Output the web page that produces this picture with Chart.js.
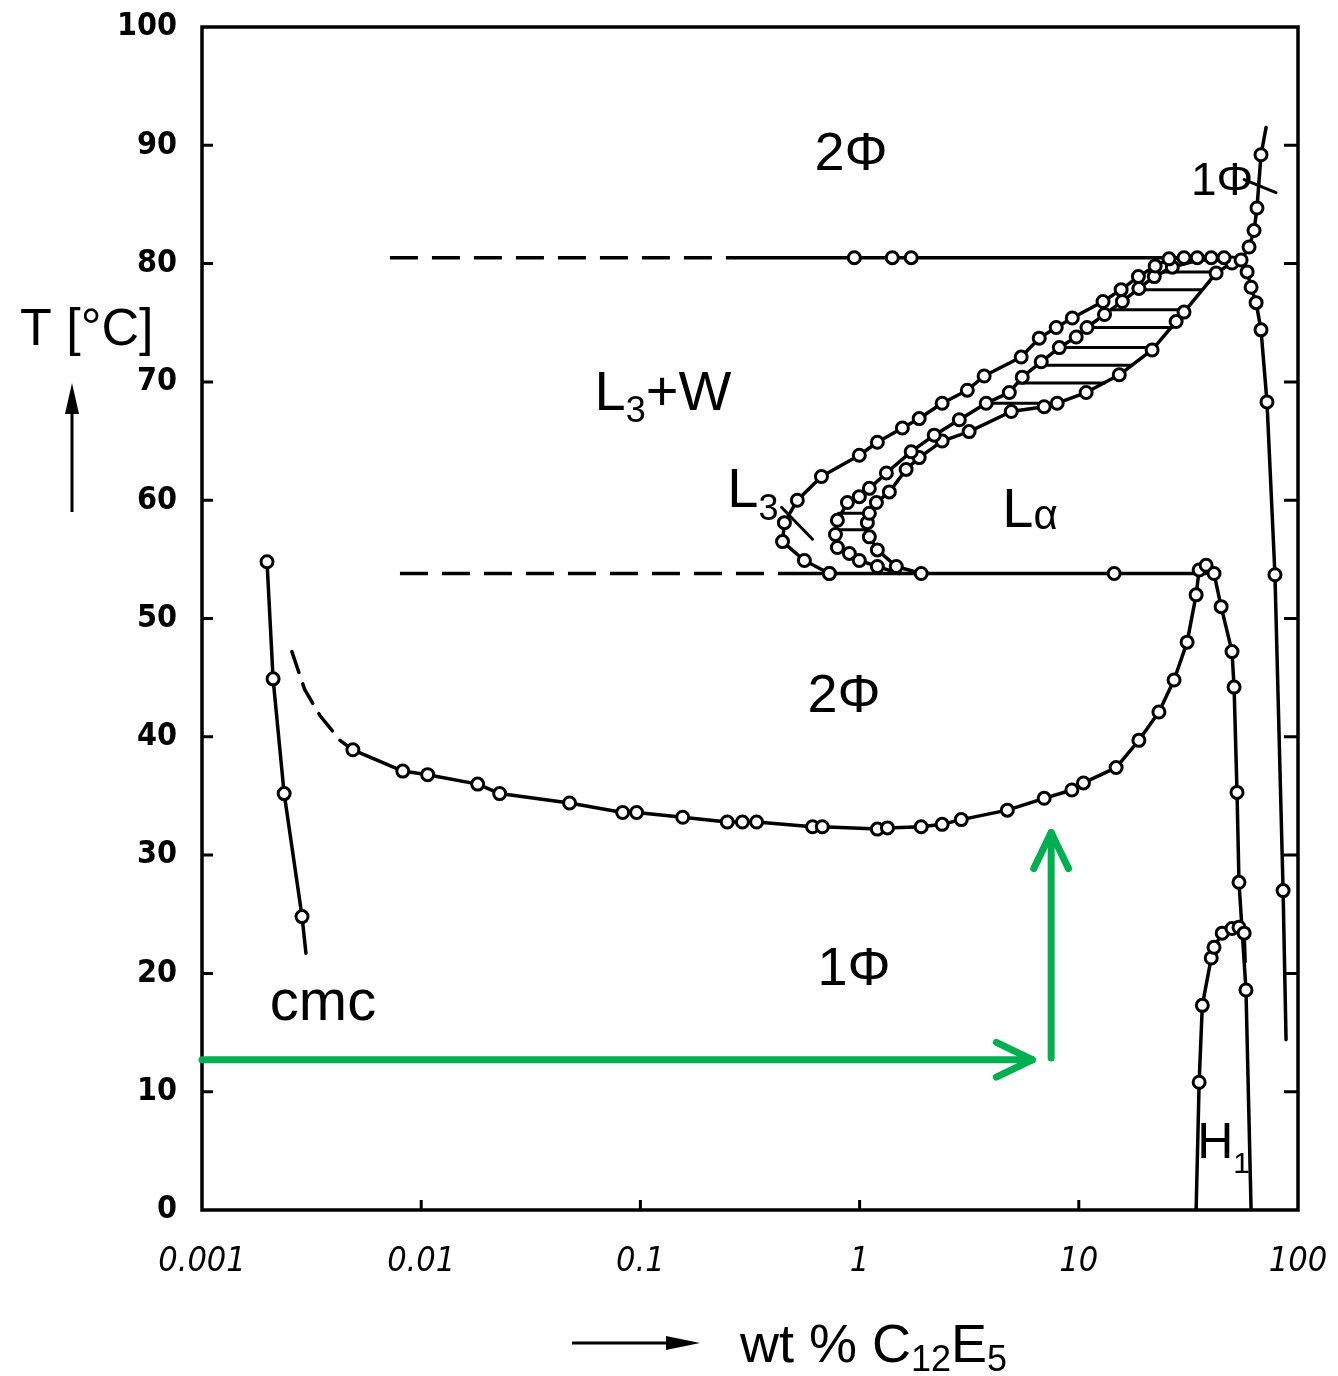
<!DOCTYPE html>
<html>
<head>
<meta charset="utf-8">
<title>C12E5 / water phase diagram</title>
<script src="https://cdn.jsdelivr.net/npm/chart.js@4.4.0/dist/chart.umd.min.js"></script>
<style>
  html, body { margin: 0; padding: 0; background: #fff; }
  canvas { display: block; }
</style>
</head>
<body>
<canvas id="chart" width="1338" height="1376"></canvas>
<script>
// axis ticks
var xTickValues = [0.001, 0.01, 0.1, 1, 10, 100];
var xTickLabels = ['0.001', '0.01', '0.1', '1', '10', '100'];
var yTickValues = [0, 10, 20, 30, 40, 50, 60, 70, 80, 90, 100];
var yTickLabels = ['0', '10', '20', '30', '40', '50', '60', '70', '80', '90', '100'];

// cmc curve  [wt%, T]
var cmcPoints = [[0.00198, 54.8], [0.00211, 44.9], [0.00237, 35.2], [0.00286, 24.8]];
var cmcEnd = [[0.00298, 21.7]];

// lower consolute (cloud point) curve
var cloudDashed = [[0.00257, 47.2], [0.00294, 44.0], [0.00345, 41.8], [0.00426, 39.7], [0.00488, 38.9]];
var cloudPoints = [[0.00488, 38.9], [0.00824, 37.1], [0.0107, 36.8], [0.0181, 36.0], [0.0228, 35.2],
  [0.0475, 34.4], [0.083, 33.6], [0.0961, 33.6], [0.156, 33.2], [0.249, 32.8], [0.292, 32.8],
  [0.339, 32.8], [0.61, 32.4], [0.676, 32.4], [1.205, 32.2], [1.34, 32.3], [1.91, 32.4],
  [2.38, 32.6], [2.91, 33.0], [4.72, 33.8], [6.95, 34.8], [9.3, 35.5], [10.5, 36.1], [14.8, 37.4],
  [18.8, 39.7], [23.2, 42.1], [27.2, 44.8], [31.2, 48.0], [34.3, 52.0], [35.4, 54.1], [38.1, 54.5],
  [41.4, 53.8], [44.6, 51.0], [50.0, 47.2], [51.1, 44.2], [52.7, 35.3], [53.8, 27.7], [57.9, 18.6]];
var cloudEnd = [[61.1, 0]];

// hexagonal phase H1
var h1Start = [[34.3, 0]];
var h1Points = [[35.4, 10.8], [36.6, 17.3], [40.2, 21.3], [41.4, 22.2], [45.1, 23.4], [50.0, 23.8],
  [53.8, 23.9], [56.8, 23.4]];
var h1End = [[57.4, 21.0]];

// boundary near pure surfactant
var rightTop = [[71.5, 91.5]];
var rightPoints = [[67.8, 89.2], [65.0, 84.7], [63.0, 82.8], [59.8, 81.4], [55.0, 80.3], [58.6, 79.3],
  [61.1, 78.0], [64.4, 76.7], [67.8, 74.4], [72.2, 68.3], [78.5, 53.7], [85.5, 27.0]];
var rightEnd = [[88.2, 14.4]];

// three-phase lines
var t80 = 80.5;
var t80Dashed = [0.0072, 0.272];
var t80Solid = [0.272, 55.0];
var t80Points = [0.946, 1.41, 1.72];
var t54 = 53.8;
var t54Dashed = [0.008, 0.50];
var t54Solid = [0.50, 38.1];
var t54Points = [0.728, 1.91, 14.5];

// L3 channel outer boundary
var l3Points = [[0.728, 53.8], [0.560, 54.9], [0.445, 56.5], [0.454, 58.1], [0.520, 60.0], [0.670, 62.0],
  [0.997, 63.8], [1.205, 64.9], [1.567, 66.1], [1.87, 66.9], [2.38, 68.2], [3.10, 69.3], [3.70, 70.5],
  [5.46, 72.1], [6.60, 73.7], [7.89, 74.6], [9.34, 75.4], [12.9, 76.8], [15.6, 77.8], [18.7, 78.9],
  [22.3, 79.8], [25.8, 80.4], [30.2, 80.5], [34.7, 80.5], [40.2, 80.5], [46.0, 80.5]];
var l3End = [[55.0, 80.3]];

// L-alpha outer boundary
var laOuterStart = [[1.52, 53.8]];
var laOuterPoints = [[1.205, 54.4], [0.997, 54.9], [0.898, 55.5], [0.792, 56.0], [0.776, 57.1],
  [0.792, 58.3], [0.880, 59.8], [0.997, 60.3], [1.108, 61.0], [1.325, 62.3], [1.72, 64.1], [2.19, 65.5],
  [2.85, 66.8], [3.78, 68.2], [4.82, 69.1], [5.52, 70.4], [6.74, 71.7], [8.15, 72.9], [9.73, 73.8],
  [10.9, 74.6], [13.1, 75.7], [15.8, 76.8], [18.8, 77.9], [22.1, 78.9], [26.7, 79.7]];
var laOuterEnd = [[35.4, 80.3], [55.0, 80.3]];

// L-alpha inner boundary
var laInnerStart = [[1.91, 53.8]];
var laInnerPoints = [[1.47, 54.4], [1.205, 55.8], [1.108, 56.9], [1.085, 58.1], [1.108, 58.9],
  [1.193, 59.8], [1.367, 60.7], [1.63, 62.6], [1.87, 63.6], [2.38, 65.0], [3.16, 65.8], [4.92, 67.5],
  [6.95, 67.9], [7.97, 68.2], [10.8, 69.1], [15.3, 70.6], [21.6, 72.7], [27.8, 75.1], [30.2, 75.9],
  [42.3, 79.2], [50.0, 80.05]];
var laInnerEnd = [[55.0, 80.3]];

// tie lines in the two-phase strip
var tieT = [79.3, 77.8, 76.1, 74.6, 72.9, 71.4, 69.9, 68.2, 58.9, 57.5];
var tieLeft = [24.3, 18.5, 14.1, 10.9, 8.32, 6.46, 5.24, 3.78, 0.80, 0.78];
var tieRight = [43.2, 36.5, 30.8, 26.7, 22.3, 17.5, 13.1, 7.97, 1.10, 1.09];

// label crosses
var l3Cross = [[0.440, 59.4], [0.610, 56.7]];
var phiCross = [[56.8, 87.1], [79.4, 86.0]];

// region labels: left/baseline position, [text, size, dy]
var regionLabels = [
  { x: 0.622, t: 87.9, parts: [['2Φ', 54, 0]] },
  { x: 32.5, t: 85.8, parts: [['1Φ', 46, 0]] },
  { x: 0.0618, t: 67.6, parts: [['L', 56, 0], ['3', 36, 12], ['+W', 56, 0]] },
  { x: 0.249, t: 59.4, parts: [['L', 56, 0], ['3', 36, 13]] },
  { x: 4.48, t: 57.7, parts: [['L', 56, 0], ['α', 42, 2]] },
  { x: 0.578, t: 42.1, parts: [['2Φ', 54, 0]] },
  { x: 0.643, t: 19.0, parts: [['1Φ', 54, 0]] },
  { x: 0.00204, t: 16.1, parts: [['cmc', 58, 0]] },
  { x: 34.7, t: 4.4, parts: [['H', 50, 0], ['1', 30, 15]] }
];

// green path arrows
var greenArrows = [
  { from: [0.001, 12.7], to: [6.14, 12.7] },
  { from: [7.48, 12.85], to: [7.48, 31.9] }
];

function xy(a) { return a.map(function (p) { return { x: p[0], y: p[1] }; }); }
function line(data, extra) {
  return Object.assign({ data: xy(data), showLine: true, borderColor: '#000', borderWidth: 3.5,
    pointRadius: 0, borderJoinStyle: 'round', borderCapStyle: 'round', order: 1 }, extra || {});
}
function marks(data) {
  return { data: xy(data), showLine: false, pointRadius: 6, pointBorderWidth: 3,
    pointBackgroundColor: '#fff', pointBorderColor: '#000', order: 0 };
}
function hpts(xs, t) { return xs.map(function (x) { return [x, t]; }); }

var datasets = [
  line(cmcPoints.concat(cmcEnd)), marks(cmcPoints),
  line(cloudDashed, { borderDash: [22, 12] }),
  line(cloudPoints.concat(cloudEnd)), marks(cloudPoints),
  line(h1Start.concat(h1Points, h1End)), marks(h1Points),
  line(rightTop.concat(rightPoints, rightEnd)), marks(rightPoints),
  line(hpts(t80Dashed, t80), { borderDash: [28, 14], borderCapStyle: 'butt' }),
  line(hpts(t80Solid, t80)), marks(hpts(t80Points, t80)),
  line(hpts(t54Dashed, t54), { borderDash: [28, 14], borderCapStyle: 'butt' }),
  line(hpts(t54Solid, t54)), marks(hpts(t54Points, t54)),
  line(l3Points.concat(l3End)), marks(l3Points),
  line(laOuterStart.concat(laOuterPoints, laOuterEnd)), marks(laOuterPoints),
  line(laInnerStart.concat(laInnerPoints, laInnerEnd)), marks(laInnerPoints),
  line(l3Cross, { borderWidth: 3 }),
  line(phiCross, { borderWidth: 3 })
];
tieT.forEach(function (t, i) {
  datasets.push(line([[tieLeft[i], t], [tieRight[i], t]], { borderWidth: 3 }));
});

var decor = {
  id: 'decor',
  afterDraw: function (chart) {
    var ctx = chart.ctx, a = chart.chartArea;
    var xs = chart.scales.x, ys = chart.scales.y;
    ctx.save();
    ctx.strokeStyle = '#000';
    ctx.fillStyle = '#000';
    ctx.lineWidth = 3.5;
    ctx.strokeRect(a.left, a.top, a.right - a.left, a.bottom - a.top);

    // inside ticks
    ctx.lineWidth = 3;
    ctx.beginPath();
    yTickValues.forEach(function (v) {
      if (v === 0 || v === 100) return;
      var py = ys.getPixelForValue(v);
      ctx.moveTo(a.left, py); ctx.lineTo(a.left + 11, py);
      ctx.moveTo(a.right, py); ctx.lineTo(a.right - 14, py);
    });
    xTickValues.forEach(function (v, i) {
      if (i === 0 || i === xTickValues.length - 1) return;
      var px = xs.getPixelForValue(v);
      ctx.moveTo(px, a.bottom); ctx.lineTo(px, a.bottom - 10);
    });
    ctx.stroke();

    // region labels
    ctx.textAlign = 'left';
    ctx.textBaseline = 'alphabetic';
    regionLabels.forEach(function (l) {
      var cx = xs.getPixelForValue(l.x), cy = ys.getPixelForValue(l.t);
      l.parts.forEach(function (p) {
        ctx.font = p[1] + 'px "Liberation Sans"';
        ctx.fillText(p[0], cx, cy + p[2]);
        cx += ctx.measureText(p[0]).width;
      });
    });

    // axis titles
    ctx.font = '52px "Liberation Sans"';
    ctx.fillText('T [°C]', 20, 345);
    ctx.lineWidth = 3;
    ctx.beginPath(); ctx.moveTo(72, 512); ctx.lineTo(72, 405); ctx.stroke();
    ctx.beginPath(); ctx.moveTo(72, 383); ctx.lineTo(65, 414); ctx.lineTo(79, 414); ctx.closePath(); ctx.fill();

    ctx.beginPath(); ctx.moveTo(572, 1343); ctx.lineTo(680, 1343); ctx.stroke();
    ctx.beginPath(); ctx.moveTo(700, 1343); ctx.lineTo(666, 1336); ctx.lineTo(666, 1350); ctx.closePath(); ctx.fill();
    var tx = 740;
    [['wt % C', 54, 0], ['12', 36, 9], ['E', 54, 0], ['5', 36, 9]].forEach(function (p) {
      ctx.font = p[1] + 'px "Liberation Sans"';
      ctx.fillText(p[0], tx, 1362 + p[2]);
      tx += ctx.measureText(p[0]).width;
    });

    // green arrows
    ctx.strokeStyle = '#00b050';
    ctx.lineWidth = 7;
    ctx.lineCap = 'round';
    ctx.lineJoin = 'round';
    greenArrows.forEach(function (g) {
      var x0 = xs.getPixelForValue(g.from[0]), y0 = ys.getPixelForValue(g.from[1]);
      var x1 = xs.getPixelForValue(g.to[0]), y1 = ys.getPixelForValue(g.to[1]);
      var ang = Math.atan2(y1 - y0, x1 - x0), h = 40, w = 0.45;
      ctx.beginPath(); ctx.moveTo(x0, y0); ctx.lineTo(x1, y1); ctx.stroke();
      ctx.beginPath();
      ctx.moveTo(x1 - h * Math.cos(ang - w), y1 - h * Math.sin(ang - w));
      ctx.lineTo(x1, y1);
      ctx.lineTo(x1 - h * Math.cos(ang + w), y1 - h * Math.sin(ang + w));
      ctx.stroke();
    });
    ctx.restore();
  }
};

new Chart(document.getElementById('chart').getContext('2d'), {
  type: 'scatter',
  data: { datasets: datasets },
  options: {
    responsive: false,
    devicePixelRatio: 1,
    animation: false,
    events: [],
    layout: { padding: { top: 27, right: 40, left: 0, bottom: 0 } },
    plugins: { legend: { display: false }, tooltip: { enabled: false } },
    scales: {
      x: {
        type: 'logarithmic', min: 0.001, max: 100,
        afterBuildTicks: function (s) { s.ticks = xTickValues.map(function (v) { return { value: v }; }); },
        afterFit: function (s) { s.height = 166; s.paddingLeft = 0; s.paddingRight = 0; },
        grid: { display: false }, border: { display: false },
        ticks: {
          callback: function (v, i) { return xTickLabels[i]; },
          font: { family: '"DejaVu Sans Condensed"', size: 34, style: 'italic' },
          color: '#000', padding: 24, maxRotation: 0, autoSkip: false
        }
      },
      y: {
        type: 'linear', min: 0, max: 100,
        afterBuildTicks: function (s) { s.ticks = yTickValues.map(function (v) { return { value: v }; }); },
        afterFit: function (s) { s.width = 202; s.paddingTop = 0; s.paddingBottom = 0; },
        grid: { display: false }, border: { display: false },
        ticks: {
          callback: function (v, i) { return yTickLabels[i]; },
          font: { family: '"DejaVu Sans Condensed"', size: 32, weight: 'bold' },
          color: '#000', padding: 17
        }
      }
    }
  },
  plugins: [decor]
});
</script>
</body>
</html>
